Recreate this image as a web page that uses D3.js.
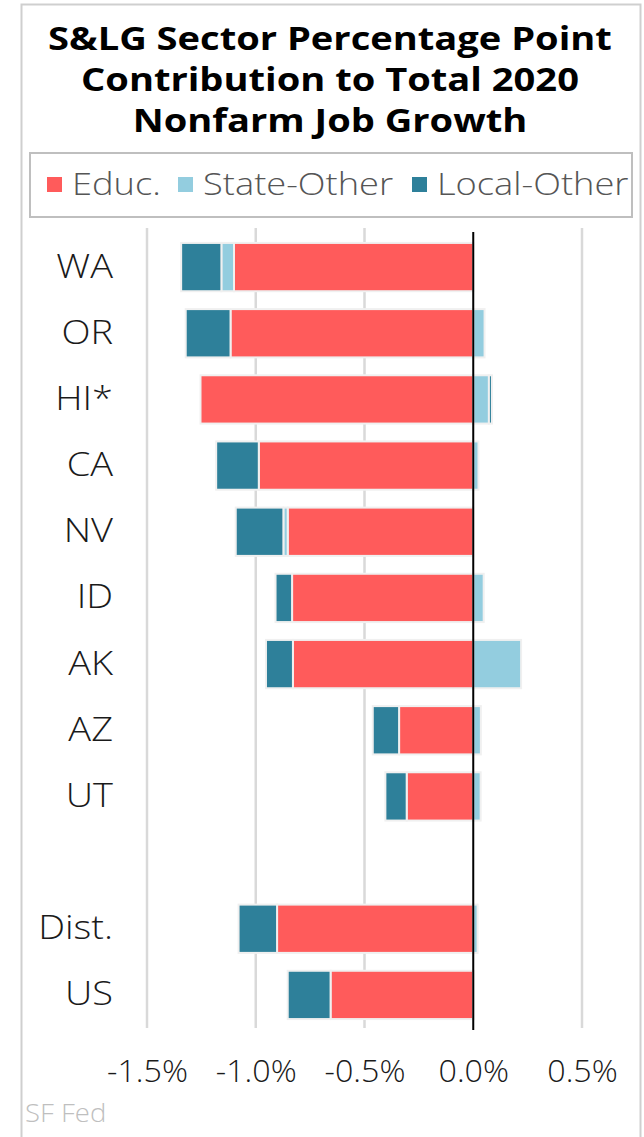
<!DOCTYPE html>
<html>
<head>
<meta charset="utf-8">
<script src="https://cdn.jsdelivr.net/npm/d3@7"></script>
<style>
  body { margin: 0; background: #fff; }
  text { font-family: "Open Sans", sans-serif; }
</style>
</head>
<body>
<div id="viz"></div>
<script>
// categories (blank row separates states from aggregates)
const states = ["WA", "OR", "HI*", "CA", "NV", "ID", "AK", "AZ", "UT", " ", "Dist.", "US"];
// percentage point contributions
const educ = [-1.10, -1.116, -1.254, -0.986, -0.853, -0.833, -0.829, -0.341, -0.306, 0, -0.902, -0.656];
const stateOther = [-0.058, 0.052, 0.072, 0.024, -0.02, 0.048, 0.22, 0.035, 0.034, 0, 0.02, 0.004];
const localOther = [-0.185, -0.206, 0.014, -0.196, -0.219, -0.076, -0.124, -0.121, -0.098, 0, -0.177, -0.197];
const seriesNames = ["Educ.", "State-Other", "Local-Other"];
const xTicks = [-1.5, -1.0, -0.5, 0.0, 0.5];

// the original font is wider than Open Sans, so stretch text a bit
function widen(sel, k) {
    sel.each(function () {
        const w = this.getComputedTextLength();
        if (w > 0) {
            d3.select(this)
                .attr("textLength", w * k)
                .attr("lengthAdjust", "spacingAndGlyphs");
        }
    });
}

document.addEventListener("DOMContentLoaded", () => {

    const width = 644;
    const height = 1137;

    const svg = d3.select("#viz")
        .append("svg")
        .attr("width", width)
        .attr("height", height);

    const colors = ["#FF5B5B", "#93CDDF", "#2E809A"];
    const keys = ["educ", "state", "local"];

    // rows for d3.stack
    const rows = states.map((s, i) => ({
        name: s, educ: educ[i], state: stateOther[i], local: localOther[i]
    }));

    const stacked = d3.stack()
        .keys(keys)
        .offset(d3.stackOffsetDiverging)(rows);

    // outer frame
    svg.append("rect")
        .attr("x", 21.5).attr("y", 4.5)
        .attr("width", 619).attr("height", height + 20)
        .attr("fill", "none")
        .attr("stroke", "#cfcfcf")
        .attr("stroke-width", 2);

    // title
    const title = ["S&LG Sector Percentage Point", "Contribution to Total 2020", "Nonfarm Job Growth"];
    svg.append("g")
        .selectAll("text")
        .data(title)
        .enter()
        .append("text")
        .attr("x", 330)
        .attr("y", (d, i) => 50 + i * 41)
        .attr("text-anchor", "middle")
        .attr("font-size", 32)
        .attr("font-weight", 700)
        .attr("fill", "#000")
        .text(d => d)
        .call(widen, 1.19);

    // legend box
    svg.append("rect")
        .attr("x", 30).attr("y", 153)
        .attr("width", 602).attr("height", 64)
        .attr("fill", "none")
        .attr("stroke", "#bfbfbf")
        .attr("stroke-width", 2);

    const legendX = [47, 178, 412];
    const legend = svg.append("g")
        .selectAll("g")
        .data(seriesNames)
        .enter()
        .append("g")
        .attr("transform", (d, i) => `translate(${legendX[i]},0)`);

    legend.append("rect")
        .attr("x", 0).attr("y", 177)
        .attr("width", 15).attr("height", 15)
        .attr("fill", (d, i) => colors[i]);

    legend.append("text")
        .attr("x", 25).attr("y", 195)
        .attr("font-size", 31)
        .attr("font-weight", 300)
        .attr("fill", "#555")
        .text(d => d)
        .call(widen, 1.17);

    // scales
    const x = d3.scaleLinear()
        .domain([-1.5, 0.5])
        .range([147, 582]);

    const y = d3.scaleBand()
        .domain(states)
        .range([234, 1028])
        .paddingInner(0.27)
        .paddingOuter(0.135);

    // gridlines
    svg.append("g")
        .selectAll("line")
        .data(xTicks.filter(t => t !== 0))
        .enter()
        .append("line")
        .attr("x1", d => x(d)).attr("x2", d => x(d))
        .attr("y1", 228).attr("y2", 1028)
        .attr("stroke", "#d9d9d9")
        .attr("stroke-width", 2.5);

    // bars
    svg.append("g")
        .selectAll("g")
        .data(stacked)
        .enter()
        .append("g")
        .attr("fill", (d, i) => colors[i])
        .selectAll("rect")
        .data(d => d.filter(p => p[0] !== p[1]))
        .enter()
        .append("rect")
        .attr("x", d => x(Math.min(d[0], d[1])))
        .attr("width", d => Math.abs(x(d[1]) - x(d[0])))
        .attr("y", d => y(d.data.name))
        .attr("height", y.bandwidth())
        .attr("stroke", "#f0f0f0")
        .attr("stroke-width", 2);

    // zero line
    svg.append("line")
        .attr("x1", x(0)).attr("x2", x(0))
        .attr("y1", 232).attr("y2", 1030)
        .attr("stroke", "#000")
        .attr("stroke-width", 2);

    // category labels
    const yAxis = svg.append("g")
        .attr("transform", "translate(113,0)")
        .call(d3.axisLeft(y).tickSize(0).tickPadding(0));
    yAxis.select(".domain").remove();
    yAxis.selectAll("text")
        .attr("font-size", 33)
        .attr("font-family", "Open Sans")
        .attr("font-weight", 300)
        .attr("fill", "#1a1a1a")
        .call(widen, 1.15);

    // x axis labels (plain hyphen, as in the original)
    const xAxis = svg.append("g")
        .attr("transform", "translate(0,1060)")
        .call(d3.axisBottom(x).tickValues(xTicks).tickSize(0).tickPadding(0)
            .tickFormat(d => (d < 0 ? "-" : "") + Math.abs(d).toFixed(1) + "%"));
    xAxis.select(".domain").remove();
    xAxis.selectAll("text")
        .attr("dy", "0.71em")
        .attr("font-size", 31)
        .attr("font-family", "Open Sans")
        .attr("font-weight", 300)
        .attr("fill", "#1a1a1a")
        .call(widen, 1.04);

    // source
    svg.append("text")
        .attr("x", 25).attr("y", 1122)
        .attr("font-size", 25)
        .attr("font-weight", 300)
        .attr("fill", "#bfbfbf")
        .text("SF Fed")
        .call(widen, 1.1);
});
</script>
</body>
</html>
